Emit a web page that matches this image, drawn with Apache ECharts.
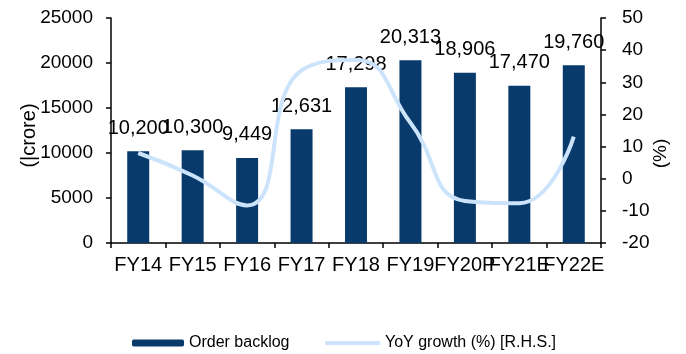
<!DOCTYPE html>
<html>
<head>
<meta charset="utf-8">
<script src="https://cdn.jsdelivr.net/npm/echarts@6/dist/echarts.min.js"></script>
<style>html,body{margin:0;padding:0;background:#fff;}#c{width:686px;height:354px;}</style>
</head>
<body>
<div id="c"></div>
<script>
const categories = ['FY14','FY15','FY16','FY17','FY18','FY19','FY20P','FY21E','FY22E'];
const orderBacklog = [10200, 10300, 9449, 12631, 17298, 20313, 18906, 17470, 19760];
const yoyGrowth = [8, 1, -8.3, 33.7, 36.9, 17.4, -6.9, -7.6, 13.1];
const leftTicks = [0, 5000, 10000, 15000, 20000, 25000];
const rightTicks = [-20, -10, 0, 10, 20, 30, 40, 50];

const FONT = 'Liberation Sans, Arial, sans-serif';
const chart = echarts.init(document.getElementById('c'), null, {renderer:'canvas'});
const axisLine = {show:true, lineStyle:{color:'#000', width:1.5}};
chart.setOption({
  animation:false,
  grid:{left:111, right:85, top:18, bottom:111, containLabel:false, outerBoundsMode:'none'},
  legend:[
    {data:['Order backlog'], left:127, top:330, itemWidth:52, itemHeight:7, itemGap:0,
     textStyle:{fontFamily:FONT, fontSize:16, color:'#000'}},
    {data:[{name:'YoY growth (%) [R.H.S.]', icon:'roundRect'}], left:320, top:330, itemWidth:55, itemHeight:4,
     textStyle:{fontFamily:FONT, fontSize:16, color:'#000'}}
  ],
  xAxis:{type:'category', data:categories, boundaryGap:true,
    axisLine:axisLine, axisTick:{show:true, inside:false, length:5, lineStyle:{color:'#000', width:1.5}},
    axisLabel:{fontFamily:FONT, fontSize:20, color:'#000', margin:12, interval:0, hideOverlap:false}},
  yAxis:[
    {type:'value', min:leftTicks[0], max:leftTicks[leftTicks.length-1], interval:5000,
     name:'(|crore)', nameLocation:'middle', nameRotate:90, nameGap:72, nameMoveOverlap:false,
     nameTextStyle:{fontFamily:FONT, fontSize:20, color:'#000', padding:[0,10,0,0]},
     axisLine:axisLine, axisTick:{show:true, length:5, lineStyle:{color:'#000', width:1.5}},
     splitLine:{show:false},
     axisLabel:{fontFamily:FONT, fontSize:19, color:'#000', margin:18, formatter:v=>String(v)}},
    {type:'value', min:rightTicks[0], max:rightTicks[rightTicks.length-1], interval:10,
     name:'(%)', nameLocation:'middle', nameRotate:90, nameGap:50, nameMoveOverlap:false,
     nameTextStyle:{fontFamily:FONT, fontSize:19, color:'#000', padding:[0,46,0,0]},
     axisLine:axisLine, axisTick:{show:true, length:5, lineStyle:{color:'#000', width:1.5}},
     splitLine:{show:false},
     axisLabel:{fontFamily:FONT, fontSize:19, color:'#000', margin:21, formatter:v=>String(v)}}
  ],
  series:[
    {name:'Order backlog', type:'bar', data:orderBacklog, barWidth:22,
     itemStyle:{color:'#083A6B'},
     label:{show:true, position:'top', distance:13, fontFamily:FONT, fontSize:20, color:'#000',
       formatter:p=>p.value.toLocaleString('en-US')}},
    {name:'YoY growth (%) [R.H.S.]', type:'line', yAxisIndex:1, data:yoyGrowth, smooth:0.5,
     showSymbol:false, symbol:'none', lineStyle:{color:'#CCE4FB', width:4}, itemStyle:{color:'#CCE4FB'}, z:3}
  ]
});
</script>
</body>
</html>
